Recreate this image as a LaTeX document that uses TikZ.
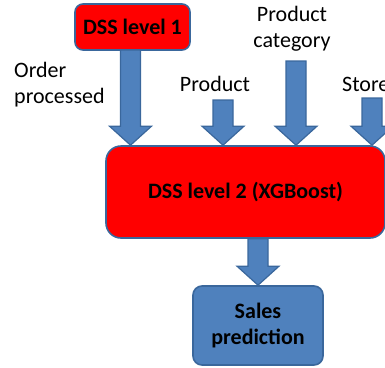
\documentclass[tikz,border=0pt]{standalone}
\usepackage{fontspec}
\setmainfont{Carlito}
\usetikzlibrary{calc}
\definecolor{boxblue}{HTML}{4F81BD}
\definecolor{edgeblue}{HTML}{3A679C}
\tikzset{
  redbox/.style={draw=edgeblue, line width=1.6pt, fill=red, rounded corners=#1,
    font=\fontsize{22}{26}\selectfont\bfseries, align=center, inner sep=0pt},
  bluebox/.style={draw=edgeblue, line width=1.6pt, fill=boxblue, rounded corners=9pt,
    font=\fontsize{22}{26}\selectfont\bfseries, align=center, inner sep=0pt},
  blockarrowstyle/.style={draw=edgeblue, line width=1.2pt, fill=boxblue, line join=miter},
  lbl/.style={font=\fontsize{22}{26}\selectfont, inner sep=0pt}
}
% thick block arrow whose shaft starts at #1 and whose tip lies at #2
\newcommand\blockarrow[2]{%
  \draw[blockarrowstyle] let \p1=(#1), \p2=(#2) in
    (\x2-10pt,\y1) -- (\x2-10pt,\y2+19pt) -- (\x2-21pt,\y2+19pt) -- (\x2,\y2)
    -- (\x2+21pt,\y2+19pt) -- (\x2+10pt,\y2+19pt) -- (\x2+10pt,\y1) -- cycle;}
\begin{document}
\begin{tikzpicture}[x=1pt,y=-1pt]
\useasboundingbox (0,0) rectangle (385,367);
\node[redbox=8pt, minimum width=115pt, minimum height=46pt] (lvl1) at (132.5,27) {DSS level 1};
\node[redbox=15pt, minimum width=279pt, minimum height=92pt] (lvl2) at (245.5,192) {DSS level 2 (XGBoost)};
\node[bluebox, minimum width=130pt, minimum height=79pt] (sales) at (258,325.5) {Sales\\prediction};

\node[lbl, anchor=west, align=left] (order) at (14,85) {Order\\processed};
\node[lbl] (product) at (215,84) {Product};
\node[lbl, align=center] (category) at (292,29) {Product\\category};
\node[lbl, anchor=west] (store) at (342,84) {Store};

\coordinate (productStart) at (223,100);
\coordinate (categoryStart) at (296,61);
\coordinate (storeStart) at (372,98);
\coordinate (orderStart) at (130.5,50);

\blockarrow{orderStart}{orderStart |- lvl2.north}
\blockarrow{productStart}{productStart |- lvl2.north}
\blockarrow{categoryStart}{categoryStart |- lvl2.north}
\blockarrow{storeStart}{storeStart |- lvl2.north}
\blockarrow{sales.north |- lvl2.south}{sales.north}
\end{tikzpicture}
\end{document}
